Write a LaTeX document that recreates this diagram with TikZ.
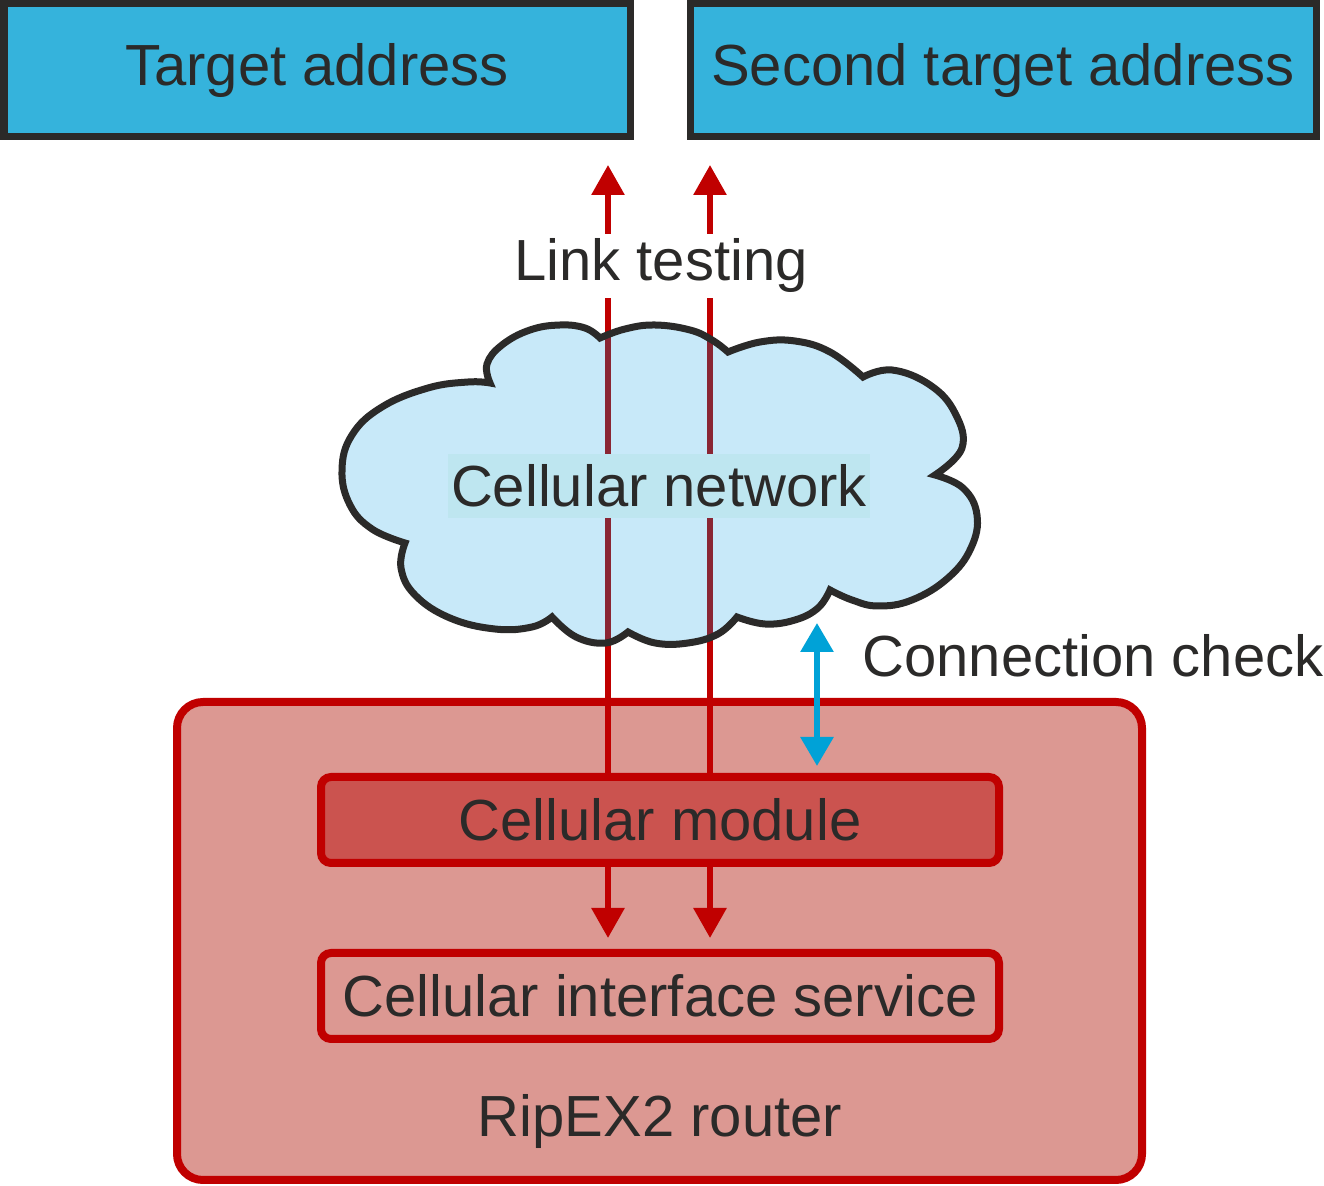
\documentclass[tikz,border=0pt]{standalone}
\usepackage{fontspec}
\setmainfont{Liberation Sans}
\usetikzlibrary{positioning, arrows.meta}

\definecolor{ink}{RGB}{43,42,41}
\definecolor{addrblue}{RGB}{53,179,220}
\definecolor{rtred}{RGB}{192,0,0}
\definecolor{rtpink}{RGB}{220,152,146}
\definecolor{modred}{RGB}{203,83,79}
\definecolor{cloudblue}{RGB}{200,233,249}
\definecolor{netbg}{RGB}{190,230,240}
\definecolor{maroon}{RGB}{138,38,52}
\definecolor{chkblue}{RGB}{0,162,215}

\begin{document}
\begin{tikzpicture}[x=0.5pt, y=-0.5pt, font=\fontsize{29}{35}\selectfont,
    text=ink,
    addr/.style={draw=ink, fill=addrblue, line width=3.5pt,
      minimum width=313pt, minimum height=66.5pt, inner sep=0pt},
    unit/.style={draw=rtred, line width=4pt, rounded corners=5pt,
      minimum width=339pt, minimum height=43pt, inner sep=0pt},
    link/.style={rtred, line width=3pt,
      -{Triangle[width=16pt, length=15pt]}},
    check/.style={chkblue, line width=3pt,
      {Triangle[width=16pt, length=14.5pt]}-{Triangle[width=16pt, length=14.5pt]}}]
  \useasboundingbox (0,0) rectangle (1324,1186);
  % Target boxes on top
  \node[addr] (ta) at (317,70.5) {Target address};
  \node[addr] (tb) at (1003,70.5) {Second target address};
  % Router with its two units
  \node[draw=rtred, fill=rtpink, line width=4pt, rounded corners=13pt,
    minimum width=482.5pt, minimum height=239pt] (rt) at (659.5,941) {};
  \node[unit, fill=modred] (mod) at (660,820) {Cellular module};
  \node[unit, fill=rtpink] (svc) at (660,996) {Cellular interface service};
  \node (rtlabel) at (660,1122) {RipEX2 router};
  % Link testing arrows
  \coordinate (la) at (608,0);
  \coordinate (lb) at (710,0);
  \draw[link, shorten >=12.25pt] (mod.north -| la) -- (ta.south -| la);
  \draw[link, shorten >=12.25pt] (mod.north -| lb) -- (tb.south -| lb);
  \draw[link, shorten >=5.5pt] (mod.south -| la) -- (svc.north -| la);
  \draw[link, shorten >=5.5pt] (mod.south -| lb) -- (svc.north -| lb);
  % Cloud
  \path[save path=\cloudpath]
    plot[smooth, tension=0.7] coordinates {(490,383) (487,364) (502,345)
      (530,330) (560,325) (585,328) (600,338)}
    -- plot[smooth, tension=0.7] coordinates {(600,338) (625,329)
      (655,325) (690,330) (712,340) (728,352)}
    -- plot[smooth, tension=0.7] coordinates {(728,352) (760,342)
      (795,341) (830,352) (863,377)}
    -- plot[smooth, tension=0.7] coordinates {(863,377) (892,370)
      (930,385) (955,413) (962,448) (935,475)}
    -- plot[smooth, tension=0.7] coordinates {(935,475) (963,488)
      (977,515) (971,548) (948,578) (912,600) (878,606) (852,600) (830,590)}
    -- plot[smooth, tension=0.7] coordinates {(830,590) (818,608)
      (795,620) (765,624) (737,617)}
    -- plot[smooth, tension=0.7] coordinates {(737,617) (718,634)
      (688,643) (655,643) (628,632)}
    -- plot[smooth, tension=0.7] coordinates {(628,632) (606,643)
      (576,637) (552,617)}
    -- plot[smooth, tension=0.7] coordinates {(552,617) (532,627)
      (495,629) (450,618) (415,595) (401,568) (405,543)}
    -- plot[smooth, tension=0.7] coordinates {(405,543) (372,529)
      (350,505) (342,470) (352,435) (382,407) (428,388) (468,382) (490,383)}
    -- cycle;
  \fill[cloudblue, use path=\cloudpath];
  \begin{scope}
    \clip[use path=\cloudpath];
    \draw[maroon, line width=3pt] (mod.north -| la) -- (ta.south -| la);
    \draw[maroon, line width=3pt] (mod.north -| lb) -- (tb.south -| lb);
  \end{scope}
  \draw[ink, line width=3.5pt, use path=\cloudpath];
  \node[fill=netbg, inner xsep=1.75pt, inner ysep=5.5pt] (net)
    at (659,486) {Cellular network};
  \node[fill=white, inner xsep=2pt, inner ysep=2.4pt] (test)
    at (661,266) {Link testing};
  % Connection check
  \coordinate (chk) at (817,623);
  \draw[check, shorten <=3.5pt] (mod.north -| chk) -- (chk);
  \node[anchor=west, inner sep=0pt] (chklabel) at (862,656)
    {Connection check};
\end{tikzpicture}
\end{document}
